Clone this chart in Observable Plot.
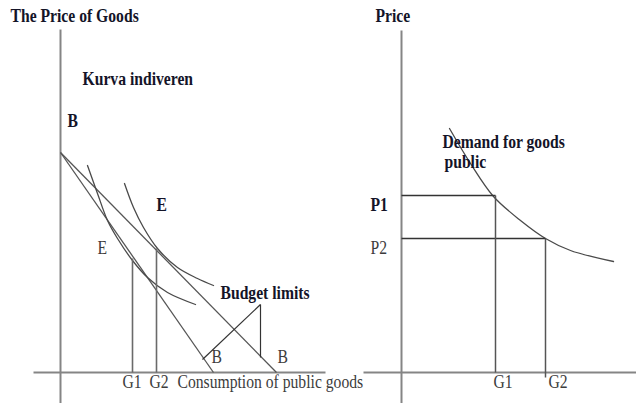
<!DOCTYPE html>
<html>
<head>
<meta charset="utf-8">
<script src="https://cdn.jsdelivr.net/npm/d3@7"></script>
<script src="https://cdn.jsdelivr.net/npm/@observablehq/plot@0.6"></script>
<style>
  html, body { margin: 0; padding: 0; background: #fff; }
  #chart { width: 636px; height: 403px; }
</style>
</head>
<body>
<div id="chart"></div>
<script>
// ---- Left panel: indifference curves and budget lines (x = horizontal position, y = height above the quantity axis)
const axesSegments = [
  {x1: 60, y1: -31, x2: 60, y2: 343},    // left price axis
  {x1: 33, y1: 0, x2: 325, y2: 0},       // left quantity axis
  {x1: 401, y1: -31, x2: 401, y2: 342},  // right price axis
  {x1: 363, y1: 0, x2: 636, y2: 0}       // right quantity axis
];
const budgetLines = [
  {x1: 60, y1: 220, x2: 213, y2: 0},
  {x1: 60, y1: 220, x2: 276, y2: 0}
];
const indifference1X = [87, 97, 107, 117, 132, 147, 167, 195];
const indifference1Y = [207, 179, 152, 134, 112, 95, 80, 68];
const indifference2X = [124, 133, 143, 157, 177, 197, 213];
const indifference2Y = [189, 165, 145, 124, 105, 94, 87];
const leftDropLines = [
  {x1: 132, y1: 114, x2: 132, y2: 0},
  {x1: 156, y1: 124, x2: 156, y2: 0}
];
const pointerLines = [
  {x1: 260, y1: 68, x2: 202, y2: 13},
  {x1: 260, y1: 68, x2: 260, y2: 15}
];

// ---- Right panel: demand for public goods
const demandX = [449, 470, 493, 520, 545, 570, 613];
const demandY = [244, 209, 176, 152, 134, 122, 111];
const priceLevels = [
  {x1: 401, y1: 177, x2: 495, y2: 177},
  {x1: 401, y1: 134, x2: 545, y2: 134}
];
const rightDropLines = [
  {x1: 495, y1: 177, x2: 495, y2: 0},
  {x1: 545, y1: 134, x2: 545, y2: -5}
];

// ---- Labels
const boldLabels = [
  {text: "The Price of Goods", x: 10, y: 356},
  {text: "Kurva indiveren", x: 82, y: 293},
  {text: "B", x: 67, y: 251},
  {text: "E", x: 156, y: 167},
  {text: "Budget limits", x: 220, y: 79},
  {text: "Price", x: 375, y: 356},
  {text: "P1", x: 370, y: 167},
  {text: "Demand for goods", x: 442, y: 230},
  {text: "public", x: 444, y: 210}
];
const regularLabels = [
  {text: "E", x: 97, y: 124},
  {text: "B", x: 211, y: 15},
  {text: "B", x: 277, y: 15},
  {text: "G1", x: 122, y: -10},
  {text: "G2", x: 149, y: -10},
  {text: "Consumption of public goods", x: 177, y: -10},
  {text: "P2", x: 370, y: 124},
  {text: "G1", x: 493, y: -10},
  {text: "G2", x: 548, y: -10}
];

const curve1 = indifference1X.map((x, i) => ({x, y: indifference1Y[i]}));
const curve2 = indifference2X.map((x, i) => ({x, y: indifference2Y[i]}));
const demand = demandX.map((x, i) => ({x, y: demandY[i]}));

const font = "'Liberation Serif', 'Times New Roman', serif";

const chart = Plot.plot({
  width: 636,
  height: 403,
  margin: 0,
  x: {domain: [0, 636], axis: null},
  y: {domain: [-31, 372], axis: null},
  style: {background: "#fff", fontFamily: font},
  marks: [
    Plot.link(axesSegments, {x1: "x1", y1: "y1", x2: "x2", y2: "y2", stroke: "#858585", strokeWidth: 2}),
    Plot.link(budgetLines, {x1: "x1", y1: "y1", x2: "x2", y2: "y2", stroke: "#555", strokeWidth: 1.3}),
    Plot.line(curve1, {x: "x", y: "y", curve: "catmull-rom", stroke: "#4a4a4a", strokeWidth: 1.3}),
    Plot.line(curve2, {x: "x", y: "y", curve: "catmull-rom", stroke: "#4a4a4a", strokeWidth: 1.3}),
    Plot.link(leftDropLines, {x1: "x1", y1: "y1", x2: "x2", y2: "y2", stroke: "#6a6a6a", strokeWidth: 1.6}),
    Plot.link(pointerLines, {x1: "x1", y1: "y1", x2: "x2", y2: "y2", stroke: "#333", strokeWidth: 1.2}),
    Plot.line(demand, {x: "x", y: "y", curve: "catmull-rom", stroke: "#4a4a4a", strokeWidth: 1.3}),
    Plot.link(priceLevels, {x1: "x1", y1: "y1", x2: "x2", y2: "y2", stroke: "#333", strokeWidth: 1.3}),
    Plot.link(rightDropLines, {x1: "x1", y1: "y1", x2: "x2", y2: "y2", stroke: "#555", strokeWidth: 1.5}),
    Plot.text(boldLabels, {x: "x", y: "y", text: "text", textAnchor: "start", lineAnchor: "middle",
      fontWeight: "bold", fontSize: 18, fill: "#141428", fontFamily: font}),
    Plot.text(regularLabels, {x: "x", y: "y", text: "text", textAnchor: "start", lineAnchor: "middle",
      fontSize: 18, fill: "#3c3c3c", fontFamily: font})
  ]
});
document.getElementById("chart").appendChild(chart);

// The reference lettering is tall and narrow: compress each label horizontally about its anchor.
d3.select(chart).selectAll("text").each(function () {
  const t = this.getAttribute("transform");
  if (t) {
    this.setAttribute("transform", t + " scale(0.87,1)");
  } else {
    const x = +this.getAttribute("x") || 0, y = +this.getAttribute("y") || 0;
    this.removeAttribute("x"); this.removeAttribute("y");
    this.setAttribute("transform", `translate(${x},${y}) scale(0.87,1)`);
  }
});
</script>
</body>
</html>
